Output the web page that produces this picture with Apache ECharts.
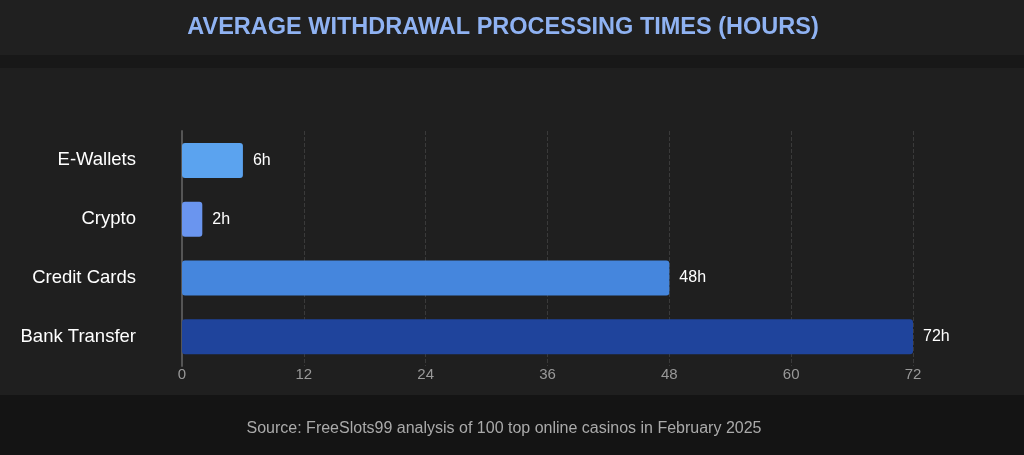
<!DOCTYPE html>
<html><head><meta charset="utf-8">
<script src="https://cdn.jsdelivr.net/npm/echarts@6/dist/echarts.min.js"></script>
<style>
html,body{margin:0;padding:0;background:#1f1f1f;}
#top{position:absolute;left:0;top:0;width:1024px;height:55px;background:#202020;}
#strip{position:absolute;left:0;top:55px;width:1024px;height:13px;background:#181818;}
#foot{position:absolute;left:0;top:395px;width:1024px;height:60px;background:#141414;}
#chart{position:absolute;left:0;top:0;width:1024px;height:455px;}
</style></head><body>
<div id="top"></div><div id="strip"></div><div id="foot"></div>
<div id="chart"></div>
<script>
var categories = ['Bank Transfer', 'Credit Cards', 'Crypto', 'E-Wallets'];
var hours = [72, 48, 2, 6];
var barColors = ['#1f449c', '#4586dd', '#6a95ef', '#5ba3ef'];
var ticks = [0, 12, 24, 36, 48, 60, 72];

var chart = echarts.init(document.getElementById('chart'));
chart.setOption({
    animation: false,
    title: [
        {
            text: 'AVERAGE WITHDRAWAL PROCESSING TIMES (HOURS)',
            left: 498, top: 11, textAlign: 'center',
            textStyle: {color: '#8fb2f2', fontSize: 23.5, fontWeight: 'bold', fontFamily: 'Liberation Sans'}
        },
        {
            text: 'Source: FreeSlots99 analysis of 100 top online casinos in February 2025',
            left: 499, top: 416, textAlign: 'center',
            textStyle: {color: '#aaaaaa', fontSize: 16, fontWeight: 'normal', fontFamily: 'Liberation Sans'}
        }
    ],
    grid: {left: 182, right: 111, top: 131, bottom: 89},
    xAxis: {
        type: 'value', min: ticks[0], max: ticks[ticks.length - 1], interval: 12,
        axisLine: {show: false}, axisTick: {show: false},
        axisLabel: {color: '#999999', fontSize: 15, margin: 1, fontFamily: 'Liberation Sans'},
        splitLine: {lineStyle: {color: '#3a3a3a', type: 'dashed'}}
    },
    yAxis: {
        type: 'category', data: categories,
        axisLine: {lineStyle: {color: '#555555', width: 2}},
        axisTick: {show: false},
        axisLabel: {color: '#ffffff', fontSize: 18.5, margin: 46, fontFamily: 'Liberation Sans'}
    },
    series: [{
        type: 'bar', barWidth: 35,
        data: hours.map(function (v, i) {
            return {value: v, itemStyle: {color: barColors[i], borderRadius: 3}};
        }),
        label: {
            show: true, position: 'right', distance: 10, color: '#ffffff', fontSize: 16,
            fontFamily: 'Liberation Sans', formatter: '{c}h'
        }
    }]
});
</script>
</body></html>
